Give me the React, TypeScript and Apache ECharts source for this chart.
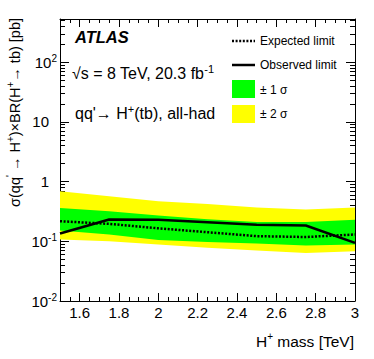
import React, { useEffect, useRef } from "react";
import * as echarts from "echarts";

const massTeV = [1.5, 1.75, 2.0, 2.25, 2.5, 2.75, 3.0];
const expectedLimit = [0.217, 0.196, 0.165, 0.142, 0.122, 0.118, 0.13];
const observedLimit = [0.135, 0.232, 0.23, 0.209, 0.19, 0.184, 0.094];
const plusOneSigma = [0.36, 0.32, 0.27, 0.235, 0.21, 0.21, 0.23];
const minusOneSigma = [0.151, 0.13, 0.105, 0.097, 0.092, 0.085, 0.088];
const plusTwoSigma = [0.69, 0.57, 0.47, 0.42, 0.37, 0.34, 0.37];
const minusTwoSigma = [0.107, 0.1, 0.088, 0.078, 0.07, 0.064, 0.068];

const xMajorTicks = [1.6, 1.8, 2.0, 2.2, 2.4, 2.6, 2.8, 3.0];
const xMinorTicks = [1.55, 1.65, 1.7, 1.75, 1.85, 1.9, 1.95, 2.05, 2.1, 2.15, 2.25, 2.3, 2.35, 2.45, 2.5, 2.55, 2.65, 2.7, 2.75, 2.85, 2.9, 2.95];
const yMajorTicks = [0.01, 0.1, 1, 10, 100];
const yMinorTicks = [
  0.02, 0.03, 0.04, 0.05, 0.06, 0.07, 0.08, 0.09,
  0.2, 0.3, 0.4, 0.5, 0.6, 0.7, 0.8, 0.9,
  2, 3, 4, 5, 6, 7, 8, 9,
  20, 30, 40, 50, 60, 70, 80, 90,
  200, 300, 400, 500,
];

const X_MIN = 1.5;
const X_MAX = 3.0;
const Y_MIN = 0.01;
const Y_MAX = 530;
const FONT = "Liberation Sans, Arial, Helvetica, sans-serif";

function yLabel(v: number): string {
  const e = Math.round(Math.log10(v));
  if (Math.abs(Math.log10(v) - e) > 1e-6) return "";
  if (e === 0) return "{p|1}";
  if (e === 1) return "{p|10}";
  return "{b|10}{e|" + e + "}";
}

function bandSeries(upper: number[], lower: number[], color: string) {
  return {
    type: "custom",
    xAxisIndex: 0,
    yAxisIndex: 0,
    silent: true,
    z: 1,
    data: [[2.25, 0.2]],
    renderItem: (_params: any, api: any) => {
      const pts: number[][] = [];
      for (let i = 0; i < massTeV.length; i++) pts.push(api.coord([massTeV[i], upper[i]]));
      for (let i = massTeV.length - 1; i >= 0; i--) pts.push(api.coord([massTeV[i], lower[i]]));
      return { type: "polygon", shape: { points: pts }, style: { fill: color } };
    },
  };
}

export default function App() {
  const ref = useRef<HTMLDivElement>(null);
  useEffect(() => {
    if (!ref.current) return;
    const chart = echarts.init(ref.current, undefined, { renderer: "svg" });
    const black = "#000";
    const xBase = {
      type: "value",
      min: X_MIN,
      max: X_MAX,
      splitLine: { show: false },
    };
    const yBase = {
      type: "log",
      logBase: 10,
      min: Y_MIN,
      max: Y_MAX,
      splitLine: { show: false },
    };
    chart.setOption({
      animation: false,
      backgroundColor: "#fff",
      grid: { left: 60, right: 19, top: 19, bottom: 58, containLabel: false },
      xAxis: [
        {
          ...xBase,
          position: "bottom",
          axisLine: { show: true, onZero: false, lineStyle: { color: black, width: 1 } },
          axisTick: { show: true, inside: true, length: 8, customValues: xMajorTicks, lineStyle: { color: black } },
          axisLabel: {
            show: true,
            customValues: xMajorTicks,
            margin: 4,
            color: black,
            fontFamily: FONT,
            fontSize: 15,
            formatter: (v: number) => String(Math.round(v * 10) / 10),
          },
        },
        {
          ...xBase,
          position: "bottom",
          axisLine: { show: false, onZero: false },
          axisTick: { show: true, inside: true, length: 4, customValues: xMinorTicks, lineStyle: { color: black } },
          axisLabel: { show: false },
        },
        {
          ...xBase,
          position: "top",
          axisLine: { show: true, onZero: false, lineStyle: { color: black, width: 1 } },
          axisTick: { show: true, inside: true, length: 8, customValues: xMajorTicks, lineStyle: { color: black } },
          axisLabel: { show: false },
        },
        {
          ...xBase,
          position: "top",
          axisLine: { show: false, onZero: false },
          axisTick: { show: true, inside: true, length: 4, customValues: xMinorTicks, lineStyle: { color: black } },
          axisLabel: { show: false },
        },
      ],
      yAxis: [
        {
          ...yBase,
          position: "left",
          axisLine: { show: true, onZero: false, lineStyle: { color: black, width: 1 } },
          axisTick: { show: true, inside: true, length: 9, customValues: yMajorTicks, lineStyle: { color: black } },
          axisLabel: {
            show: true,
            customValues: yMajorTicks,
            margin: 3,
            color: black,
            fontFamily: FONT,
            fontSize: 15,
            formatter: yLabel,
            rich: {
              b: { fontFamily: FONT, fontSize: 15, color: black, lineHeight: 18 },
              e: { fontFamily: FONT, fontSize: 10, color: black, verticalAlign: "top", lineHeight: 18 },
              p: { fontFamily: FONT, fontSize: 15, color: black, lineHeight: 18, padding: [0, 8, 0, 0] },
            },
          },
        },
        {
          ...yBase,
          position: "left",
          axisLine: { show: false, onZero: false },
          axisTick: { show: true, inside: true, length: 5, customValues: yMinorTicks, lineStyle: { color: black } },
          axisLabel: { show: false },
        },
        {
          ...yBase,
          position: "right",
          axisLine: { show: true, onZero: false, lineStyle: { color: black, width: 1 } },
          axisTick: { show: true, inside: true, length: 9, customValues: yMajorTicks, lineStyle: { color: black } },
          axisLabel: { show: false },
        },
        {
          ...yBase,
          position: "right",
          axisLine: { show: false, onZero: false },
          axisTick: { show: true, inside: true, length: 5, customValues: yMinorTicks, lineStyle: { color: black } },
          axisLabel: { show: false },
        },
      ],
      series: [
        bandSeries(plusTwoSigma, minusTwoSigma, "#ffff00"),
        bandSeries(plusOneSigma, minusOneSigma, "#00ff00"),
        {
          type: "line",
          name: "Expected limit",
          xAxisIndex: 0,
          yAxisIndex: 0,
          z: 3,
          symbol: "none",
          data: massTeV.map((m, i) => [m, expectedLimit[i]]),
          lineStyle: { color: black, width: 2.5, type: [2, 1.6] },
        },
        {
          type: "line",
          name: "Observed limit",
          xAxisIndex: 0,
          yAxisIndex: 0,
          z: 4,
          symbol: "none",
          data: massTeV.map((m, i) => [m, observedLimit[i]]),
          lineStyle: { color: black, width: 2.5 },
        },
      ],
      graphic: [
        {
          type: "text",
          x: 75,
          y: 37,
          style: { text: "ATLAS", fontFamily: FONT, fontSize: 16.5, fontWeight: "bold", fontStyle: "italic", fill: black, verticalAlign: "middle" },
        },
        {
          type: "text",
          x: 72,
          y: 73,
          style: {
            text: "√s = 8 TeV, 20.3 fb{s|-1}",
            fontFamily: FONT, fontSize: 16, fill: black, verticalAlign: "middle",
            rich: { s: { fontFamily: FONT, fontSize: 11, fill: black, verticalAlign: "top", lineHeight: 20 } },
          },
        },
        {
          type: "text",
          x: 75,
          y: 113,
          style: {
            text: "qq'→ H{s|+}(tb), all-had",
            fontFamily: FONT, fontSize: 16, fill: black, verticalAlign: "middle",
            rich: { s: { fontFamily: FONT, fontSize: 11, fill: black, verticalAlign: "top", lineHeight: 20 } },
          },
        },
        {
          type: "line",
          shape: { x1: 232, y1: 41, x2: 255, y2: 41 },
          style: { stroke: black, lineWidth: 2.5, lineDash: [2, 1.6] },
        },
        {
          type: "text", x: 260, y: 41,
          style: { text: "Expected limit", fontFamily: FONT, fontSize: 12, fill: black, verticalAlign: "middle" },
        },
        {
          type: "line",
          shape: { x1: 232, y1: 65, x2: 255, y2: 65 },
          style: { stroke: black, lineWidth: 2.5 },
        },
        {
          type: "text", x: 260, y: 65,
          style: { text: "Observed limit", fontFamily: FONT, fontSize: 12, fill: black, verticalAlign: "middle" },
        },
        { type: "rect", shape: { x: 232, y: 80, width: 23, height: 18 }, style: { fill: "#00ff00" } },
        {
          type: "text", x: 260, y: 90,
          style: { text: "± 1 σ", fontFamily: FONT, fontSize: 12, fill: black, verticalAlign: "middle" },
        },
        { type: "rect", shape: { x: 232, y: 105, width: 23, height: 18 }, style: { fill: "#ffff00" } },
        {
          type: "text", x: 260, y: 114,
          style: { text: "± 2 σ", fontFamily: FONT, fontSize: 12, fill: black, verticalAlign: "middle" },
        },
        {
          type: "text",
          x: 354,
          y: 341,
          style: {
            text: "H{s|+} mass [TeV]",
            fontFamily: FONT, fontSize: 15.5, fill: black, align: "right", verticalAlign: "middle",
            rich: { s: { fontFamily: FONT, fontSize: 10, fill: black, verticalAlign: "top", lineHeight: 19 } },
          },
        },
        {
          type: "text",
          x: 15,
          y: 18,
          rotation: Math.PI / 2,
          style: {
            text: "σ(qq{s|'} → H{s|+})×BR(H{s|+}→ tb) [pb]",
            fontFamily: FONT, fontSize: 14.5, fill: black, align: "right", verticalAlign: "middle",
            rich: { s: { fontFamily: FONT, fontSize: 10, fill: black, verticalAlign: "top", lineHeight: 19 } },
          },
        },
      ],
    });
    return () => chart.dispose();
  }, []);
  return <div ref={ref} style={{ width: 374, height: 359, position: "absolute", left: 0, top: 0 }} />;
}
